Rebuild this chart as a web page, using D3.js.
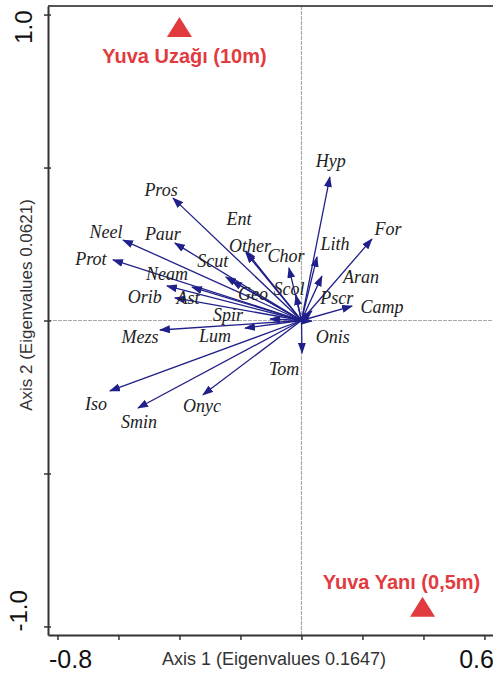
<!DOCTYPE html>
<html>
<head>
<meta charset="utf-8">
<script src="https://cdn.jsdelivr.net/npm/d3@7"></script>
<style>
  body { margin: 0; background: #fff; }
</style>
</head>
<body>
<div id="wrapper"></div>
<script>
// species scores (arrows)
const speciesNames = ["Hyp", "For", "Lith", "Aran", "Pscr", "Camp", "Chor", "Scol", "Onis", "Tom",
    "Other", "Ent", "Scut", "Geo", "Pros", "Neel", "Paur", "Prot", "Neam", "Orib",
    "Ast", "Spir", "Lum", "Mezs", "Iso", "Smin", "Onyc"];
const speciesAxis1 = [0.093, 0.231, 0.051, 0.067, 0.034, 0.166, -0.041, -0.018, 0.034, 0.002,
    -0.182, -0.182, -0.248, -0.228, -0.421, -0.585, -0.415, -0.618, -0.441, -0.415,
    -0.359, -0.103, -0.185, -0.464, -0.628, -0.536, -0.323];
const speciesAxis2 = [0.469, 0.266, 0.208, 0.145, 0.031, 0.047, 0.172, 0.083, -0.002, -0.106,
    0.221, 0.227, 0.142, 0.129, 0.400, 0.263, 0.253, 0.198, 0.113, 0.074,
    0.109, 0.005, -0.025, -0.031, -0.230, -0.286, -0.243];

// sample sites (red triangles)
const siteNames = ["Yuva Uzağı (10m)", "Yuva Yanı (0,5m)"];
const siteAxis1 = [-0.40, 0.397];
const siteAxis2 = [0.959, -0.936];

// axes
const xTicks = [-0.8, -0.6, -0.4, -0.2, 0, 0.2, 0.4, 0.6];
const yTicks = [-1.0, -0.5, 0, 0.5, 1.0];
const xTickLabels = ["-0.8", "", "", "", "", "", "", "0.6"];
const yTickLabels = ["-1.0", "", "", "", "1.0"];
const xTitle = "Axis 1 (Eigenvalues 0.1647)";
const yTitle = "Axis 2 (Eigenvalues 0.0621)";

// label placement relative to the arrow tip, in px [dx, dy] (text centre, baseline)
const labelNudge = {
    Hyp: [1, -10], For: [16, -4], Lith: [18, -7], Aran: [39, 7], Pscr: [25, -7],
    Camp: [30, 7], Chor: [-3, -6], Scol: [-7, 0], Onis: [21, 22], Tom: [-18, 22],
    Other: [4, -1], Ent: [-7, -26], Scut: [-13, -10], Geo: [21, 19], Pros: [-12, -2],
    Neel: [-17, -2], Paur: [-12, -3], Prot: [-22, 5], Neam: [0, -6], Orib: [-30, 5],
    Ast: [-4, 17], Spir: [-42, 2], Lum: [-30, 14], Mezs: [-20, 13], Iso: [-14, 19],
    Smin: [1, 20], Onyc: [-1, 17]
};
const siteLabelNudge = [[5, 36], [-21, -18]];

function drawBiplot() {
    const species = speciesNames.map((name, i) => ({ name, a1: speciesAxis1[i], a2: speciesAxis2[i] }));
    const sites = siteNames.map((name, i) => ({ name, a1: siteAxis1[i], a2: siteAxis2[i], i }));

    let dimensions = {
        width: 493,
        height: 678,
        margin: { top: 6, right: 0, bottom: 43, left: 48 },
    };
    dimensions.boundedWidth = dimensions.width - dimensions.margin.left - dimensions.margin.right;
    dimensions.boundedHeight = dimensions.height - dimensions.margin.top - dimensions.margin.bottom;

    const arrowColor = "#20208a";
    const red = "#e23b3f";

    const wrapper = d3.select("#wrapper")
        .append("svg")
        .attr("width", dimensions.width)
        .attr("height", dimensions.height);

    const bounds = wrapper.append("g")
        .attr("transform", `translate(${dimensions.margin.left},${dimensions.margin.top})`);

    // scales
    const xScale = d3.scaleLinear()
        .domain([-0.831, 0.628])
        .range([0, dimensions.boundedWidth]);

    const yScale = d3.scaleLinear()
        .domain([-1.028, 1.028])
        .range([dimensions.boundedHeight, 0]);

    // zero lines
    bounds.append("line")
        .attr("x1", xScale(0)).attr("x2", xScale(0))
        .attr("y1", 0).attr("y2", dimensions.boundedHeight)
        .attr("stroke", "#aaa").attr("stroke-width", 1.2)
        .attr("stroke-dasharray", "4,1");
    bounds.append("line")
        .attr("x1", 0).attr("x2", dimensions.boundedWidth)
        .attr("y1", yScale(0)).attr("y2", yScale(0))
        .attr("stroke", "#aaa").attr("stroke-width", 1.2)
        .attr("stroke-dasharray", "4,1");

    // top frame line
    bounds.append("line")
        .attr("x1", 0).attr("x2", dimensions.boundedWidth)
        .attr("y1", 0).attr("y2", 0)
        .attr("stroke", "#555").attr("stroke-width", 2);

    // arrow head
    wrapper.append("defs").append("marker")
        .attr("id", "head")
        .attr("markerUnits", "userSpaceOnUse")
        .attr("markerWidth", 11).attr("markerHeight", 8)
        .attr("refX", 10).attr("refY", 4)
        .attr("orient", "auto")
        .append("path")
        .attr("d", "M0,0 L11,4 L0,8 z")
        .attr("fill", arrowColor);

    bounds.selectAll(".arrow")
        .data(species)
        .enter().append("line")
        .attr("class", "arrow")
        .attr("x1", xScale(0)).attr("y1", yScale(0))
        .attr("x2", d => xScale(d.a1))
        .attr("y2", d => yScale(d.a2))
        .attr("stroke", arrowColor)
        .attr("stroke-width", 1.3)
        .attr("marker-end", "url(#head)");

    bounds.selectAll(".sp-label")
        .data(species)
        .enter().append("text")
        .attr("class", "sp-label")
        .attr("x", d => xScale(d.a1) + labelNudge[d.name][0])
        .attr("y", d => yScale(d.a2) + labelNudge[d.name][1])
        .attr("text-anchor", "middle")
        .style("font-family", "'Liberation Serif', 'Times New Roman', serif")
        .style("font-style", "italic")
        .style("font-size", "18px")
        .attr("fill", "#222")
        .text(d => d.name);

    // sites
    bounds.selectAll(".site")
        .data(sites)
        .enter().append("path")
        .attr("class", "site")
        .attr("d", d => {
            const cx = xScale(d.a1), cy = yScale(d.a2);
            return `M${cx},${cy - 10} L${cx + 12.5},${cy + 10} L${cx - 12.5},${cy + 10} Z`;
        })
        .attr("fill", red);

    bounds.selectAll(".site-label")
        .data(sites)
        .enter().append("text")
        .attr("class", "site-label")
        .attr("x", d => xScale(d.a1) + siteLabelNudge[d.i][0])
        .attr("y", d => yScale(d.a2) + siteLabelNudge[d.i][1])
        .attr("text-anchor", "middle")
        .style("font-family", "'Liberation Sans', Arial, sans-serif")
        .style("font-weight", "bold")
        .style("font-size", "20px")
        .attr("fill", red)
        .text(d => d.name);

    // axes
    const xAxisGenerator = d3.axisBottom(xScale)
        .tickValues(xTicks)
        .tickSize(5)
        .tickSizeOuter(0)
        .tickFormat((d, i) => xTickLabels[i]);

    const xAxis = bounds.append("g")
        .attr("transform", `translate(0,${dimensions.boundedHeight})`)
        .call(xAxisGenerator);
    xAxis.select(".domain").attr("stroke", "#333").attr("stroke-width", 2);
    xAxis.selectAll(".tick line").attr("stroke", "#333").attr("stroke-width", 1.5);
    xAxis.selectAll(".tick text")
        .attr("fill", "#111")
        .style("font-family", "'Liberation Sans', Arial, sans-serif")
        .style("font-size", "25px")
        .attr("dy", 0)
        .attr("y", 33)
        .attr("text-anchor", (d, i) => i === 0 ? "start" : "end")
        .attr("x", (d, i) => i === 0 ? -9 : 9);

    const yAxisGenerator = d3.axisLeft(yScale)
        .tickValues(yTicks)
        .tickSize(4)
        .tickSizeOuter(0)
        .tickFormat((d, i) => yTickLabels[i]);

    const yAxis = bounds.append("g")
        .call(yAxisGenerator);
    yAxis.select(".domain").attr("stroke", "#333").attr("stroke-width", 2);
    yAxis.selectAll(".tick line").attr("x2", -4).attr("x1", 3)
        .attr("stroke", "#333").attr("stroke-width", 1.5);
    yAxis.selectAll(".tick text")
        .attr("fill", "#111")
        .style("font-family", "'Liberation Sans', Arial, sans-serif")
        .style("font-size", "24px")
        .attr("text-anchor", "middle")
        .attr("dy", 0)
        .attr("x", 0)
        .attr("transform", (d, i) => i === 0
            ? `translate(${27 - dimensions.margin.left},-16) rotate(-90)`
            : `translate(${32 - dimensions.margin.left},12) rotate(-90)`);

    // axis titles
    wrapper.append("text")
        .attr("x", 274)
        .attr("y", 665)
        .attr("text-anchor", "middle")
        .style("font-family", "'Liberation Sans', Arial, sans-serif")
        .style("font-size", "18px")
        .attr("fill", "#333")
        .text(xTitle);

    wrapper.append("text")
        .attr("transform", "translate(32,305) rotate(-90)")
        .attr("text-anchor", "middle")
        .style("font-family", "'Liberation Sans', Arial, sans-serif")
        .style("font-size", "17px")
        .attr("fill", "#333")
        .text(yTitle);
}

drawBiplot();
</script>
</body>
</html>
